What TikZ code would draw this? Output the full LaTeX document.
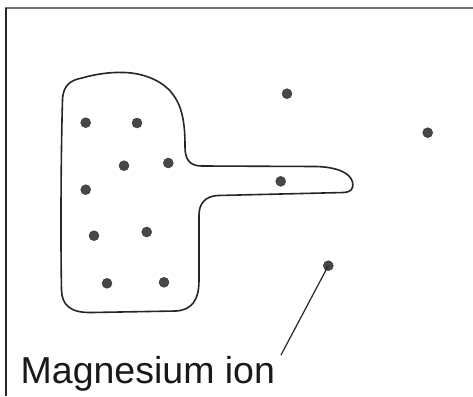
\documentclass[tikz,border=0pt]{standalone}
\usepackage{fontspec}
\setmainfont{Liberation Sans}
\begin{document}
\begin{tikzpicture}[x=1pt,y=-1pt,
  ion/.style={circle,fill=black!72,draw=black!80,line width=0.4pt,inner sep=0pt,minimum size=10pt},
  outline/.style={draw=black!85,line width=1.6pt},
  leader/.style={draw=black!85,line width=1.2pt}]
\useasboundingbox (0,0) rectangle (473,396);
\fill[white] (0,0) rectangle (473,396);
% frame (top and left only)
\draw[black!55,line width=2pt] (5,8) -- (473,8);
\draw[black!85,line width=1.2pt] (6,8) -- (6,396);
% membrane outline
\draw[outline]
  (61.5,290)
  .. controls (60.5,240) and (61,150) .. (62.5,100)
  .. controls (63,84) and (72,80) .. (82,78)
  .. controls (96,74) and (110,72) .. (124,72.5)
  .. controls (145,73) and (165,82) .. (174,96)
  .. controls (184,110) and (185,130) .. (185,147)
  .. controls (185,160) and (190,166) .. (202,166)
  -- (316,166.5)
  .. controls (335,167) and (350,172) .. (352.5,182)
  .. controls (354,190) and (350,192) .. (344,192.5)
  -- (218,195.5)
  .. controls (205,196) and (199,204) .. (199,215)
  -- (199,280)
  .. controls (199,300) and (192,310) .. (176,311)
  -- (92,312.5)
  .. controls (70,313) and (62,305) .. (61.5,290)
  -- cycle;
% ions
\node[ion] (i1) at (85.7,122.7) {};
\node[ion] (i2) at (137,123) {};
\node[ion] (i3) at (124,165.7) {};
\node[ion] (i4) at (168.3,163) {};
\node[ion] (i5) at (85.7,189.7) {};
\node[ion] (i6) at (94,235.7) {};
\node[ion] (i7) at (146.7,232) {};
\node[ion] (i8) at (107,283.3) {};
\node[ion] (i9) at (164,282.3) {};
\node[ion] (i10) at (287,93.7) {};
\node[ion] (i11) at (427.7,132.7) {};
\node[ion] (i12) at (280.7,181.3) {};
\node[ion] (mg) at (328.3,265.7) {};
% label
\node[anchor=base west,inner sep=0pt,font=\fontsize{37.5}{40}\selectfont,text=black!90] (lab) at (20.5,383) {Magnesium ion};
\coordinate (lend) at (281,355);
\draw[leader] (mg.center) -- (lend);
\end{tikzpicture}
\end{document}
